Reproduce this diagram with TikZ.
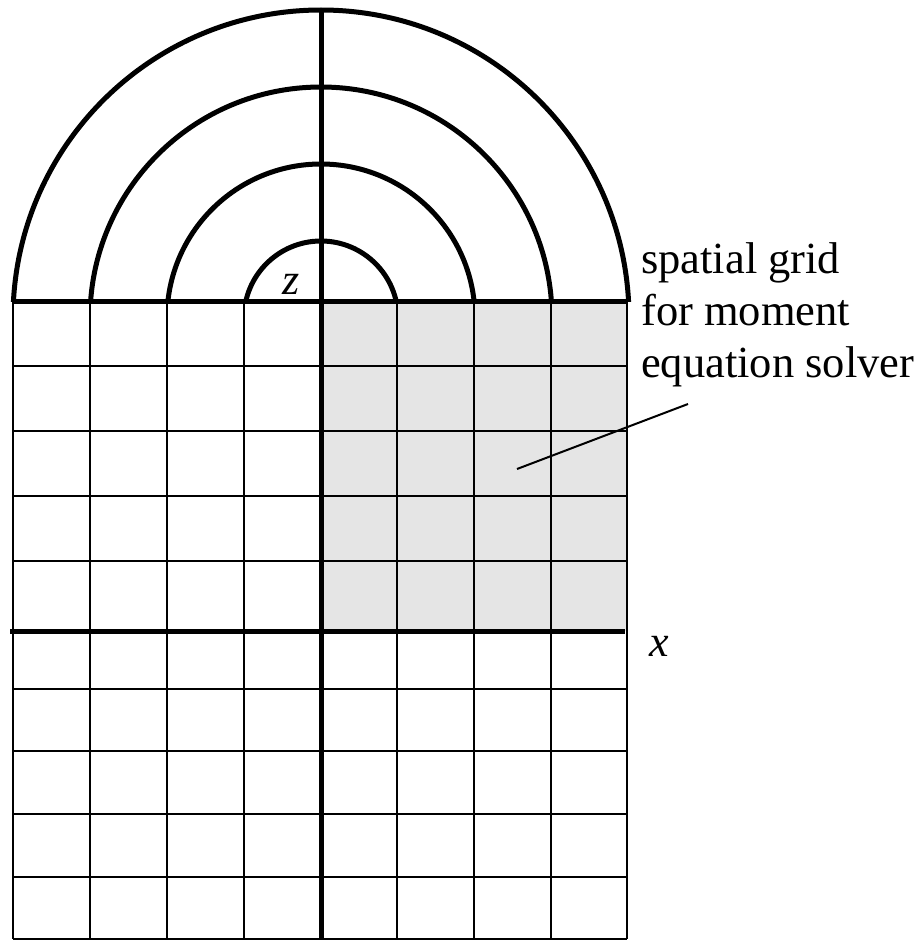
\documentclass[tikz,border=0pt]{standalone}
\usepackage{fontspec}
\setmainfont{Liberation Serif}
\begin{document}
\begin{tikzpicture}[x=1pt,y=-1pt,
  thin grid/.style={line width=2.8pt},
  thick axis/.style={line width=5pt},
  arcline/.style={line width=5pt},
  lbl/.style={font=\fontsize{44.5}{52}\selectfont, inner sep=0pt},
  axlbl/.style={font=\fontsize{44}{52}\selectfont\itshape, inner sep=0pt},
  shade/.style={fill=black!10}]
\useasboundingbox (0,0) rectangle (923,942);
% shaded region
\fill[shade] (321,301) rectangle (627,631);
% grid lines
\foreach \x in {13,90,167,244,397,474,551,627}
  \draw[thin grid] (\x,301) -- (\x,939);
\foreach \y in {366,431,496,561,689,751,814,877,939}
  \draw[thin grid] (13,\y) -- (627,\y);
% arcs
\begin{scope}
  \clip (0,0) rectangle (923,301);
  \foreach \r in {77,154,231,308}
    \draw[arcline] (321,318) circle[radius=\r];
\end{scope}
% axes
\draw[thick axis] (13,301) -- (627,301);
\draw[thick axis] (10,631) -- (625,631);
\draw[thick axis] (321,10) -- (321,939);
% labels
\node[axlbl, anchor=base] (z) at (291,294) {z};
\node[axlbl, anchor=base] (x) at (659,656) {x};
\node[lbl, anchor=base west, align=left] (txt) at (641,377) {spatial grid\\for moment\\equation solver};
\coordinate (lead) at (517,469);
\draw[line width=2pt] (lead) -- (688,404);
\end{tikzpicture}
\end{document}
